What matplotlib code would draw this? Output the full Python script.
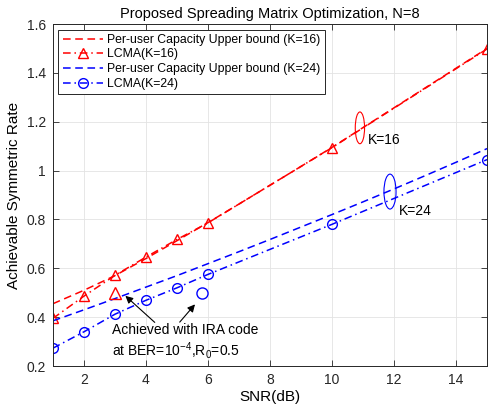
import matplotlib
matplotlib.use("Agg")
import matplotlib.pyplot as plt
from matplotlib.patches import Ellipse

plt.rcParams['font.family'] = ['Liberation Sans', 'DejaVu Sans']
plt.rcParams['mathtext.fontset'] = 'custom'
plt.rcParams['mathtext.rm'] = 'Liberation Sans'
plt.rcParams['mathtext.it'] = 'Liberation Sans'

# capacity upper bounds, every dB
snr_cap = [1, 2, 3, 4, 5, 6, 7, 8, 9, 10, 11, 12, 13, 14, 15]
cap_k16 = [0.455, 0.51, 0.57, 0.64, 0.713, 0.787, 0.863, 0.94, 1.017, 1.095,
           1.176, 1.257, 1.338, 1.419, 1.5]
cap_k24 = [0.385, 0.43, 0.476, 0.523, 0.57, 0.619, 0.668, 0.718, 0.769, 0.82,
           0.872, 0.925, 0.979, 1.034, 1.09]

# LCMA rates
snr_lcma = [1, 2, 3, 4, 5, 6, 10, 15]
lcma_k16 = [0.395, 0.486, 0.571, 0.646, 0.718, 0.786, 1.094, 1.498]
lcma_k24 = [0.273, 0.34, 0.412, 0.469, 0.52, 0.575, 0.78, 1.045]

# IRA coded points
ira_snr_k16 = [3]
ira_snr_k24 = [5.8]
ira_rate = [0.5]

xticks = [2, 4, 6, 8, 10, 12, 14]
yticks = [0.2, 0.4, 0.6, 0.8, 1.0, 1.2, 1.4, 1.6]
ytick_labels = ['0.2', '0.4', '0.6', '0.8', '1', '1.2', '1.4', '1.6']

fig = plt.figure(figsize=(4.9, 4.07), dpi=100)
ax = fig.add_axes([0.108, 0.1007, 0.886, 0.8403])

gray = '#262626'
dash = (5, 3)
dashdot = (5, 2.5, 1, 2.5)
ax.plot(snr_cap, cap_k16, 'r', ls=(0, dash), lw=1.1,
        label='Per-user Capacity Upper bound (K=16)')
ax.plot(snr_lcma, lcma_k16, 'r', ls=(0, dashdot), lw=1.1, marker='^', ms=7,
        mfc='none', mew=1.0, label='LCMA(K=16)')
ax.plot(snr_cap, cap_k24, 'b', ls=(0, dash), lw=1.1,
        label='Per-user Capacity Upper bound (K=24)')
ax.plot(snr_lcma, lcma_k24, 'b', ls=(0, dashdot), lw=1.1, marker='o', ms=7,
        mfc='none', mew=1.0, label='LCMA(K=24)')

ax.plot(ira_snr_k16, ira_rate, 'r^', ms=8, mfc='none', mew=1.0)
ax.plot(ira_snr_k24, ira_rate, 'bo', ms=8, mfc='none', mew=1.0)

ax.set_xlim(1, 15)
ax.set_ylim(0.2, 1.6)
ax.set_xticks(xticks)
ax.set_yticks(yticks)
ax.set_yticklabels(ytick_labels)
ax.tick_params(direction='in', top=True, right=True, labelsize=10, colors=gray,
               length=4, width=0.6, pad=5)
for s in ax.spines.values():
    s.set_color(gray)
    s.set_linewidth(0.7)
ax.grid(True, color='#e3e3e3', lw=0.6)
ax.set_axisbelow(True)

ax.set_title('Proposed Spreading Matrix Optimization, N=8', fontsize=10.5, pad=4)
ax.set_xlabel('SNR(dB)', fontsize=11, labelpad=2)
ax.set_ylabel('Achievable Symmetric Rate', fontsize=11, labelpad=4)

leg = ax.legend(loc='upper left', fontsize=8.8, handlelength=3.3, handletextpad=0.35,
                borderaxespad=0.45, labelspacing=0.22, fancybox=False, framealpha=1,
                borderpad=0.35)
leg.get_frame().set_edgecolor(gray)
leg.get_frame().set_linewidth(0.7)

# curve group markers
ax.add_patch(Ellipse((10.9, 1.175), 0.3, 0.13, fill=False, ec='r', lw=0.8))
ax.text(11.15, 1.127, 'K=16', fontsize=10, va='center', ha='left')
ax.add_patch(Ellipse((11.87, 0.914), 0.39, 0.143, fill=False, ec='b', lw=0.8))
ax.text(12.15, 0.833, 'K=24', fontsize=10, va='center', ha='left')

ax.text(2.9, 0.347, 'Achieved with IRA code', fontsize=10, va='center', ha='left')
ax.text(2.9, 0.265, 'at BER=10$^{-4}$,R$_0$=0.5', fontsize=10, va='center', ha='left')
arrow = dict(arrowstyle='-|>', color='k', lw=0.8, mutation_scale=11)
ax.annotate('', xy=(3.27, 0.495), xytext=(4.35, 0.371), arrowprops=arrow)
ax.annotate('', xy=(5.64, 0.461), xytext=(5.03, 0.371), arrowprops=arrow)

fig.savefig('out.png', dpi=100)
